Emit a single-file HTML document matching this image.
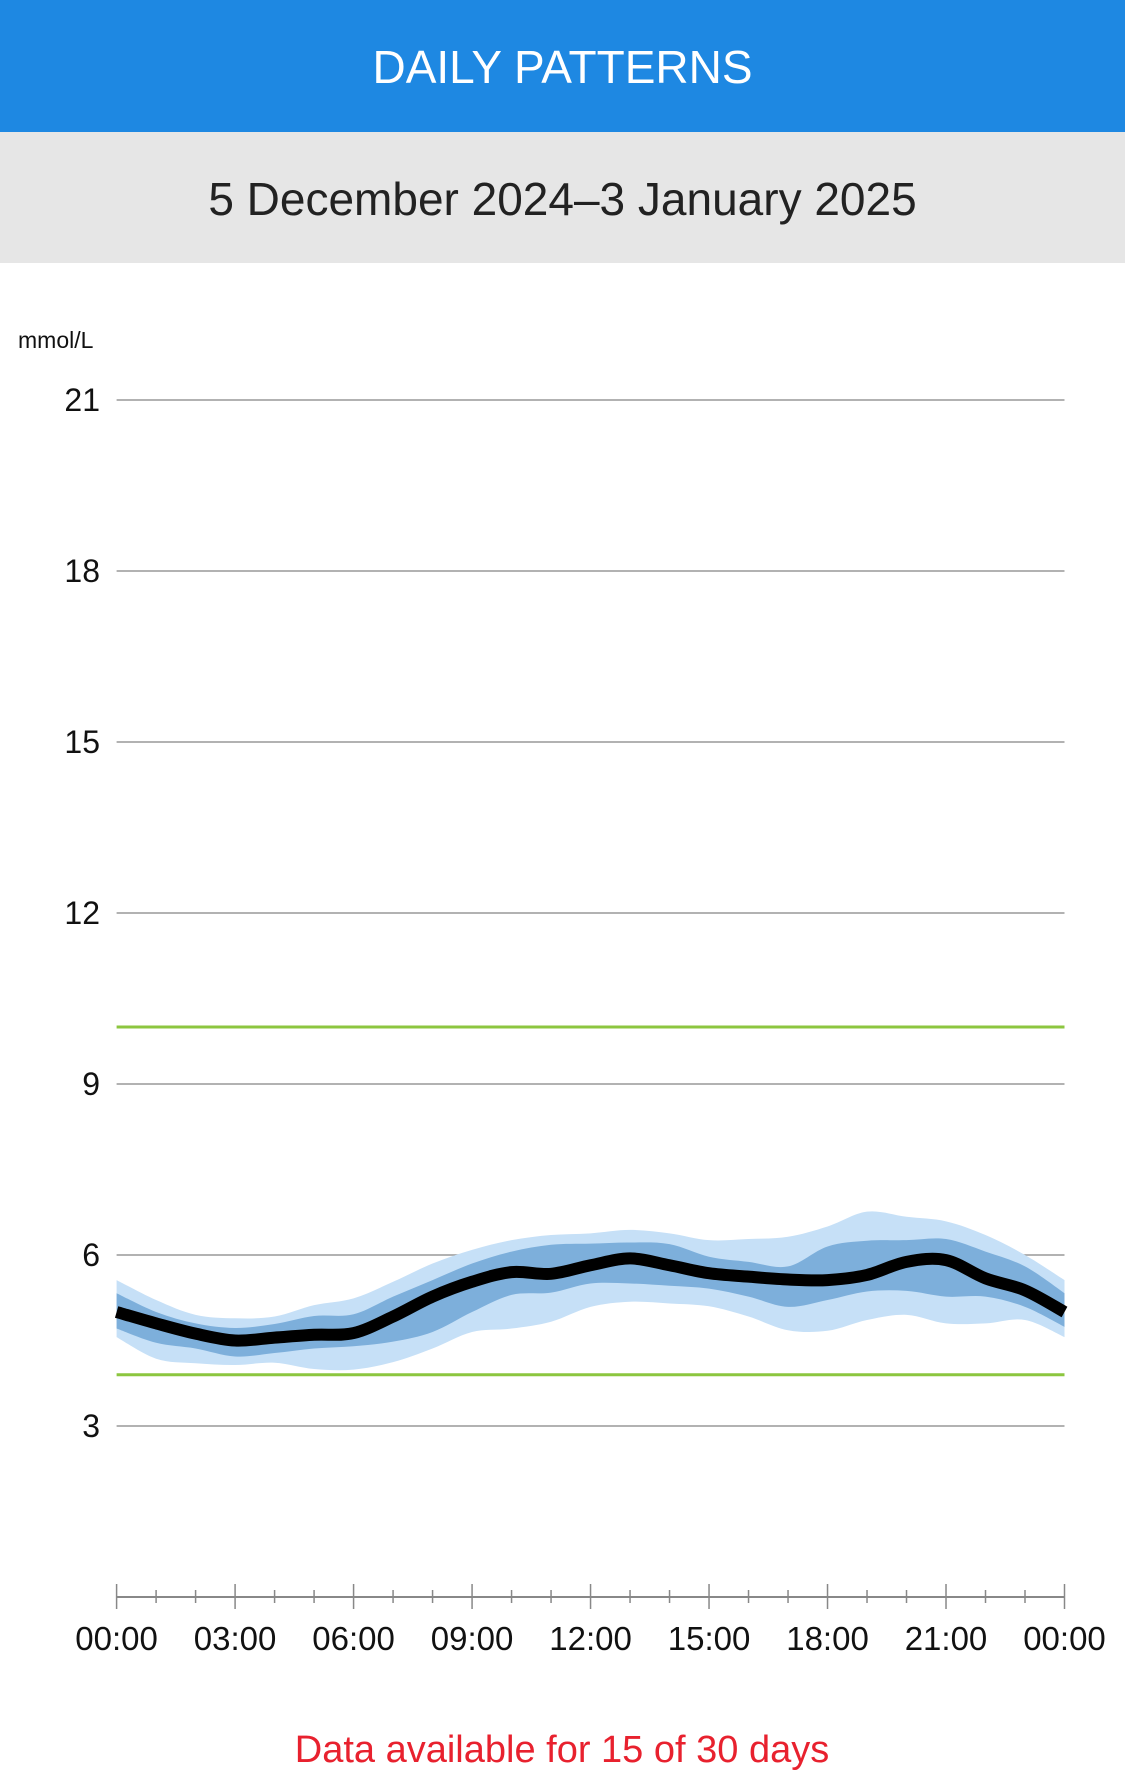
<!DOCTYPE html>
<html><head><meta charset="utf-8">
<style>
html,body{margin:0;padding:0;background:#fff;width:1125px;height:1792px;overflow:hidden;font-family:"Liberation Sans",sans-serif;}
#hdr{position:absolute;left:0;top:0;width:1125px;height:132px;background:#1e88e2;color:#fff;font-size:46px;text-align:center;line-height:134px;}
#sub{position:absolute;left:0;top:132px;width:1125px;height:131px;background:#e6e6e6;color:#222;font-size:46px;text-align:center;line-height:134px;}
svg{position:absolute;left:0;top:0;}
</style></head><body>
<div id="hdr">DAILY PATTERNS</div>
<div id="sub">5 December 2024–3 January 2025</div>
<svg id="chart" width="1125" height="1792"></svg>
<script>
const yTicks=[3,6,9,12,15,18,21];
const targetRange=[3.9,10];
const xLabels=["00:00","03:00","06:00","09:00","12:00","15:00","18:00","21:00","00:00"];
const hours=[0,1,2,3,4,5,6,7,8,9,10,11,12,13,14,15,16,17,18,19,20,21,22,23,24];
const median=[5.0,4.8,4.62,4.5,4.55,4.6,4.63,4.92,5.27,5.53,5.7,5.67,5.82,5.94,5.82,5.68,5.62,5.57,5.56,5.65,5.88,5.91,5.59,5.38,5.0];
const p75=[5.33,5.0,4.8,4.72,4.79,4.93,4.96,5.27,5.56,5.85,6.06,6.18,6.2,6.22,6.19,5.97,5.88,5.8,6.15,6.25,6.26,6.28,6.06,5.8,5.33];
const p25=[4.71,4.46,4.36,4.22,4.28,4.36,4.4,4.48,4.65,5.0,5.3,5.34,5.5,5.5,5.46,5.41,5.27,5.09,5.21,5.36,5.37,5.27,5.27,5.09,4.74];
const p90=[5.56,5.21,4.95,4.89,4.92,5.12,5.24,5.53,5.85,6.09,6.26,6.35,6.38,6.44,6.38,6.26,6.28,6.32,6.5,6.76,6.67,6.59,6.35,6.0,5.56];
const p10=[4.56,4.18,4.1,4.07,4.11,4.0,3.99,4.12,4.36,4.65,4.71,4.83,5.09,5.18,5.15,5.1,4.92,4.68,4.67,4.86,4.95,4.8,4.8,4.86,4.56];

const X0=116.6,X1=1064.5,Y0=1597,PX=57;
const xs=h=>X0+(X1-X0)*h/24;
const ys=v=>Y0-v*PX;
const NS="http://www.w3.org/2000/svg";
const svg=document.getElementById('chart');
function mk(t,a){const e=document.createElementNS(NS,t);for(const k in a)e.setAttribute(k,a[k]);svg.appendChild(e);return e;}
function smooth(pts){let d="M"+pts[0][0]+","+pts[0][1];for(let i=0;i<pts.length-1;i++){const p0=pts[Math.max(0,i-1)],p1=pts[i],p2=pts[i+1],p3=pts[Math.min(pts.length-1,i+2)];const c1=[p1[0]+(p2[0]-p0[0])/6,p1[1]+(p2[1]-p0[1])/6],c2=[p2[0]-(p3[0]-p1[0])/6,p2[1]-(p3[1]-p1[1])/6];d+=" C"+c1+" "+c2+" "+p2;}return d;}
function band(up,lo){const a=hours.map((h,i)=>[xs(h),ys(up[i])]);const b=hours.map((h,i)=>[xs(h),ys(lo[i])]).reverse();let d=smooth(a);d+=" L"+b[0]+smooth(b).replace(/^M[^ ]+/,"");return d+"Z";}

const u=mk('text',{x:18,y:348,'font-size':23,fill:'#111'});u.textContent='mmol/L';


yTicks.forEach(v=>{
  const l=mk('line',{x1:X0,x2:X1,y1:ys(v),y2:ys(v),stroke:'#999','stroke-width':1.5});
  
  
  const t=mk('text',{x:100,y:ys(v)+11,'font-size':32,'text-anchor':'end',fill:'#111'});t.textContent=v;
  
  
});
targetRange.forEach(v=>{
  const l=mk('line',{x1:X0,x2:X1,y1:ys(v),y2:ys(v),stroke:'#8cc63f','stroke-width':3});
  
  
});
const o=mk('path',{d:band(p90,p10),fill:'#c6e0f7'});


const n=mk('path',{d:band(p75,p25),fill:'#7dafdb'});


const m=mk('path',{d:smooth(hours.map((h,i)=>[xs(h),ys(median[i])])),fill:'none',stroke:'#000','stroke-width':12,'stroke-linejoin':'round'});


const ax=mk('line',{x1:X0,x2:X1,y1:Y0,y2:Y0,stroke:'#888','stroke-width':2});


hours.forEach(h=>{const maj=h%3===0;
  const t=mk('line',{x1:xs(h),x2:xs(h),y1:maj?1584:1590,y2:maj?1609:1603,stroke:'#888','stroke-width':1.5});
  
  
});
xLabels.forEach((s,i)=>{
  const t=mk('text',{x:xs(i*3),y:1650,'font-size':33,'text-anchor':'middle',fill:'#111'});t.textContent=s;
  
  
});
const r=mk('text',{x:562,y:1762,'font-size':38,'text-anchor':'middle',fill:'#e8212e'});r.textContent='Data available for 15 of 30 days';


</script>
</body></html>
